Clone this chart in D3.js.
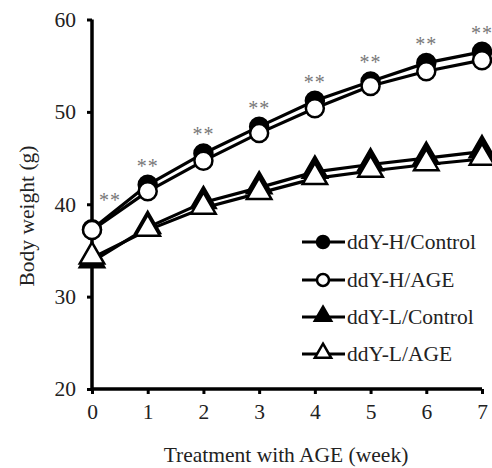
<!DOCTYPE html>
<html>
<head>
<meta charset="utf-8">
<script src="https://cdn.jsdelivr.net/npm/d3@7"></script>
<style>
  body { margin: 0; background: #fff; }
  text { font-family: "Liberation Serif", "Times New Roman", serif; }
</style>
</head>
<body>
<svg id="chart" width="492" height="468"></svg>
<script>
// data
const weeks = [0, 1, 2, 3, 4, 5, 6, 7];
const hControl = [37.3, 42.1, 45.5, 48.4, 51.2, 53.3, 55.3, 56.5];
const hAge     = [37.2, 41.4, 44.7, 47.7, 50.4, 52.8, 54.4, 55.6];
const lControl = [33.8, 37.5, 40.2, 41.8, 43.5, 44.3, 45.0, 45.7];
const lAge     = [34.2, 37.2, 39.6, 41.2, 42.8, 43.6, 44.3, 44.9];
const seriesNames = ["ddY-H/Control", "ddY-H/AGE", "ddY-L/Control", "ddY-L/AGE"];
const yTicks = [20, 30, 40, 50, 60];
const sigMarks = ["**", "**", "**", "**", "**", "**", "**", "**"];

const svg = d3.select('#chart');

let x = d3.scaleLinear().domain([0, 7]).range([92, 482]);
let y = d3.scaleLinear().domain([20, 60]).range([389, 19.5]);

// axes
let yAxis = d3.axisLeft(y).tickValues(yTicks).tickSize(5).tickPadding(11);
let xAxis = d3.axisBottom(x).ticks(7).tickSize(5).tickPadding(10);

let gy = svg.append('g').attr('transform', 'translate(92,0)').call(yAxis);
let gx = svg.append('g').attr('transform', 'translate(0,389)').call(xAxis);
[gx, gy].forEach(g => {
    g.attr('font-size', null).attr('font-family', null);
    g.select('.domain').attr('stroke', '#000').attr('stroke-width', 3.5);
    g.selectAll('.tick line').attr('stroke', '#000').attr('stroke-width', 3);
    g.selectAll('.tick text').attr('fill', '#222').style('font-size', '21.5px');
});
gy.select('.domain').attr('d', 'M0,' + y(60) + 'V' + y(20));
gx.select('.domain').attr('d', 'M' + x(0) + ',0H' + x(7));

// axis titles
svg.append('text')
    .attr('x', 286).attr('y', 462)
    .attr('text-anchor', 'middle')
    .style('font-size', '21.5px').attr('fill', '#222')
    .text('Treatment with AGE (week)');
svg.append('text')
    .attr('transform', 'translate(34,216) rotate(-90)')
    .attr('text-anchor', 'middle')
    .style('font-size', '21.5px').attr('fill', '#222')
    .text('Body weight (g)');

const series = [
    {name: seriesNames[0], vals: hControl, shape: 'circle', fill: '#000'},
    {name: seriesNames[1], vals: hAge, shape: 'circle', fill: '#fff'},
    {name: seriesNames[2], vals: lControl, shape: 'triangle', fill: '#000'},
    {name: seriesNames[3], vals: lAge, shape: 'triangle', fill: '#fff'}
];

let line = d3.line().x((d, i) => x(weeks[i])).y(d => y(d));

function marker(g, s, size) {
    if (s.shape == 'circle') {
        g.append('circle').attr('r', size)
    } else {
        g.append('path').attr('d', d3.symbol().type(d3.symbolTriangle).size(size * size * 3.2)())
            .attr('transform', 'translate(0,' + (-size * 0.15) + ')');
    }
    g.selectAll('*').attr('fill', s.fill).attr('stroke', '#000').attr('stroke-width', 2.5);
}

// lines first, then markers
series.forEach(s => {
    svg.append('path').datum(s.vals).attr('d', line)
        .attr('fill', 'none').attr('stroke', '#000').attr('stroke-width', 3.2);
});
series.forEach(s => {
    s.vals.forEach((v, i) => {
        let g = svg.append('g').attr('transform', 'translate(' + x(weeks[i]) + ',' + y(v) + ')');
        marker(g, s, 9);
    });
});

// significance marks
sigMarks.forEach((m, i) => {
    let xo = i == 0 ? x(weeks[i]) + 18 : x(weeks[i]);
    let yo = i == 0 ? y(hControl[i]) - 22 : y(hControl[i]) - 12;
    svg.append('text')
        .attr('x', xo).attr('y', yo)
        .attr('text-anchor', 'middle')
        .style('font-size', '20px').attr('fill', '#777')
        .style('letter-spacing', '1px')
        .text(m);
});

// legend
let legendY = [242, 280, 317, 354];
series.forEach((s, i) => {
    let g = svg.append('g').attr('transform', 'translate(0,' + legendY[i] + ')');
    g.append('line').attr('x1', 302).attr('x2', 345).attr('y1', 0).attr('y2', 0)
        .attr('stroke', '#000').attr('stroke-width', 3.2);
    let mg = g.append('g').attr('transform', 'translate(323,0)');
    marker(mg, s, 6);
    g.append('text').attr('x', 347).attr('y', 7)
        .style('font-size', '21.5px').attr('fill', '#222')
        .text(s.name);
});
</script>
</body>
</html>
